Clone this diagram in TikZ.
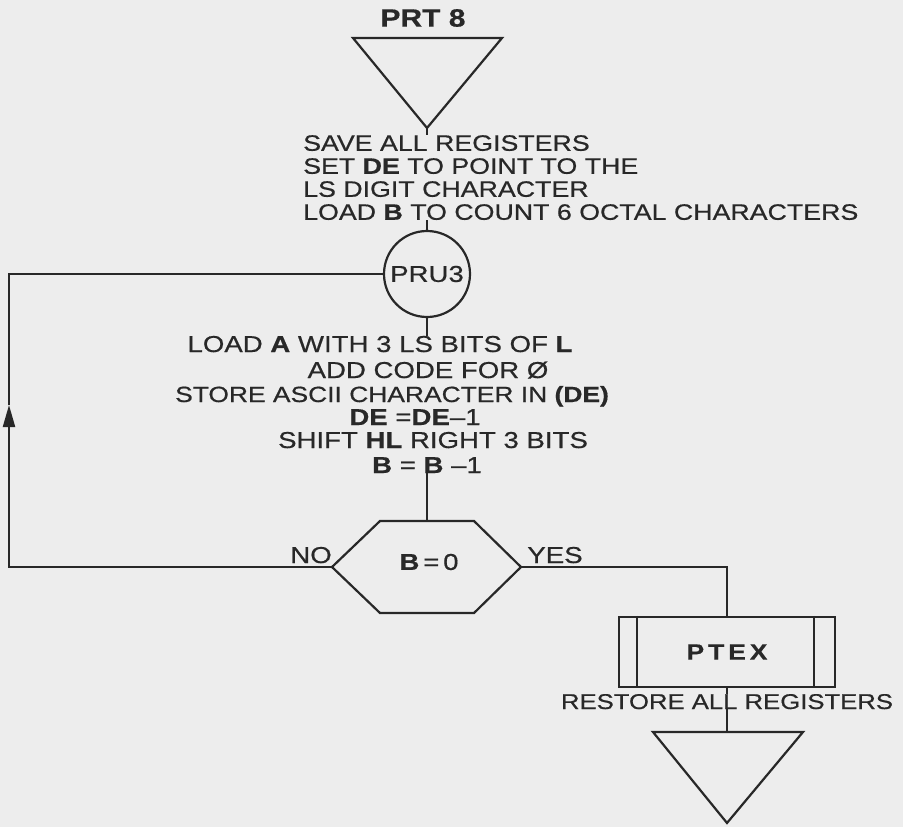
\documentclass[tikz,border=0pt]{standalone}
\usepackage{fontspec}
\setmainfont[FakeStretch=1.2,FakeBold=0.6]{Liberation Sans}
\newfontfamily\wide[FakeStretch=1.2,LetterSpace=18,FakeBold=0.6]{Liberation Sans}
\usetikzlibrary{arrows.meta}
\definecolor{paper}{RGB}{237,237,237}
\definecolor{ink}{RGB}{40,40,40}
\begin{document}
\begin{tikzpicture}[
  x=1pt, y=-1pt,
  inkline/.style={draw=ink, line width=2.2pt, line join=miter},
  txt/.style={inner sep=0pt, text=ink, font=\fontsize{23}{23}\selectfont},
  title/.style={inner sep=0pt, text=ink, font=\bfseries\fontsize{25}{25}\selectfont},
  sub/.style={inkline, inner sep=0pt, text=ink, font=\wide\bfseries\fontsize{22}{22}\selectfont}
]
\fill[paper] (0,0) rectangle (903,827);
\useasboundingbox (0,0) rectangle (903,827);

\node[title] (entry) at (423,18) {PRT 8};
\coordinate (entryT) at (427,128);
\draw[inkline] (353,38) -- (502,38) -- (entryT) -- cycle;

\node[txt, align=left, anchor=north west, font=\fontsize{22.3}{23}\selectfont] (save) at (303,135) {SAVE ALL REGISTERS\\SET \textbf{DE} TO POINT TO THE\\LS DIGIT CHARACTER\\LOAD \textbf{B} TO COUNT 6 OCTAL CHARACTERS};
\draw[inkline] (entryT) -- (entryT |- save.north);

\node[txt, inkline, circle, minimum size=86pt] (loop) at (427,274) {PRU3};
\draw[inkline] (save.south -| loop.north) -- (loop.north);

\node[txt, anchor=base] (s1) at (380,352) {LOAD \textbf{A} WITH 3 LS BITS OF \textbf{L}};
\node[txt, anchor=base] (s2) at (428,378) {ADD CODE FOR Ø};
\node[txt, anchor=base, font=\fontsize{22}{22}\selectfont] (s3) at (392,402) {STORE ASCII CHARACTER IN \textbf{(DE)}};
\node[txt, anchor=base] (s4) at (415,425) {\textbf{DE} =\textbf{DE}–1};
\node[txt, anchor=base] (s5) at (433,448) {SHIFT \textbf{HL} RIGHT 3 BITS};
\node[txt, anchor=base] (s6) at (427,473) {\textbf{B} = \textbf{B} –1};
\draw[inkline] (loop.south) -- (loop.south |- s1.north);

\coordinate (hexL) at (332,567);
\coordinate (hexR) at (521,567);
\coordinate (hexT) at (427,521);
\draw[inkline] (hexL) -- (380,521) -- (474,521) -- (hexR) -- (474,613) -- (380,613) -- cycle;
\node[txt] (test) at (429,562) {\textbf{B}\,=\,0};
\node[txt, anchor=base] (no) at (311,563) {NO};
\node[txt, anchor=base] (yes) at (555,563) {YES};
\draw[inkline] (s6.south -| hexT) -- (hexT);

\coordinate (backA) at (9,567);
\coordinate (backM) at (9,405);
\coordinate (backB) at (9,274);
\draw[inkline, -{Triangle[length=22pt, width=12pt]}] (hexL) -- (backA) -- (backM);
\draw[inkline] (backM) -- (backB) -- (loop.west);

\node[sub, minimum width=216pt, minimum height=70pt] (ptex) at (727,652) {PTEX};
\draw[inkline] ([xshift=19pt]ptex.north west) -- ([xshift=19pt]ptex.south west);
\draw[inkline] ([xshift=-22pt]ptex.north east) -- ([xshift=-22pt]ptex.south east);
\coordinate (yesC) at (ptex.north |- hexR);
\draw[inkline] (hexR) -- (yesC) -- (ptex.north);

\node[txt, anchor=base, font=\fontsize{21.4}{22}\selectfont] (restore) at (727,709) {RESTORE ALL REGISTERS};
\draw[inkline] (ptex.south) -- (ptex.south |- restore.north);
\coordinate (exitT) at (727,732);
\draw[inkline] (restore.south -| exitT) -- (exitT);
\draw[inkline] (653,732) -- (803,732) -- (727,823) -- cycle;
\end{tikzpicture}
\end{document}
